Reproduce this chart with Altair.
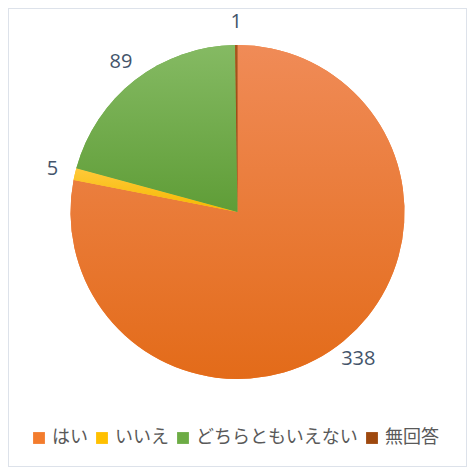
import math
import altair as alt
import pandas as pd

categories = ["はい", "いいえ", "どちらともいえない", "無回答"]
values = [338, 5, 89, 1]
base_colors = ["#F37C2D", "#FFC000", "#6DAC45", "#9E480E"]
grad_top = ["#F08B57", "#FFC93A", "#85BA63", "#A9551C"]
grad_bottom = ["#E36B19", "#F5B800", "#5F9D37", "#923F0A"]

df = pd.DataFrame({"category": categories, "value": values, "order": list(range(len(categories)))})
total = sum(values)

CX, CY = 229.5, 204
R = 167

theta_scale = alt.Scale(domain=[0, total], range=[0, 2 * math.pi])

base = (
    alt.Chart(df)
    .transform_window(cum="sum(value)", sort=[alt.SortField("order")], frame=[None, 0])
    .transform_calculate(start="datum.cum - datum.value", mid="datum.cum - datum.value / 2")
)

flat = base.mark_arc(outerRadius=R).encode(
    theta=alt.Theta("start:Q", scale=theta_scale),
    theta2="cum:Q",
    color=alt.Color(
        "category:N",
        scale=alt.Scale(domain=categories, range=base_colors),
        legend=alt.Legend(
            title=None,
            orient="none",
            direction="horizontal",
            legendX=22,
            legendY=421,
            symbolType="square",
            symbolSize=140,
            symbolStrokeWidth=0,
            labelFont="Noto Sans CJK JP",
            labelFontSize=18,
            labelColor="#595959",
            labelOffset=4,
            labelLimit=400,
            columnPadding=5,
        ),
        sort=categories,
    ),
    x=alt.value(CX),
    y=alt.value(CY),
)

layers = [flat]
for cat, top, bot in zip(categories, grad_top, grad_bottom):
    g = alt.LinearGradient(
        gradient="linear",
        x1=0, y1=0, x2=0, y2=1,
        stops=[alt.GradientStop(color=top, offset=0), alt.GradientStop(color=bot, offset=1)],
    )
    layers.append(
        base.transform_filter(alt.datum.category == cat)
        .mark_arc(outerRadius=R, fill=g)
        .encode(
            theta=alt.Theta("start:Q", scale=theta_scale),
            theta2="cum:Q",
            x=alt.value(CX),
            y=alt.value(CY),
        )
    )

labels = base.mark_text(
    radius=190, fontSize=20, font="Open Sans", color="#44546A", align="center", baseline="middle"
).encode(
    theta=alt.Theta("mid:Q", scale=theta_scale),
    text="value:Q",
    x=alt.value(CX),
    y=alt.value(CY),
)
layers.append(labels)

chart = (
    alt.layer(*layers)
    .properties(width=459, height=459, autosize=alt.AutoSizeParams(type="none"), padding=0)
    .configure_view(stroke="#DDE2EA", strokeWidth=2)
)

chart.save("out.html", embed_options={"renderer": "svg", "actions": False})
